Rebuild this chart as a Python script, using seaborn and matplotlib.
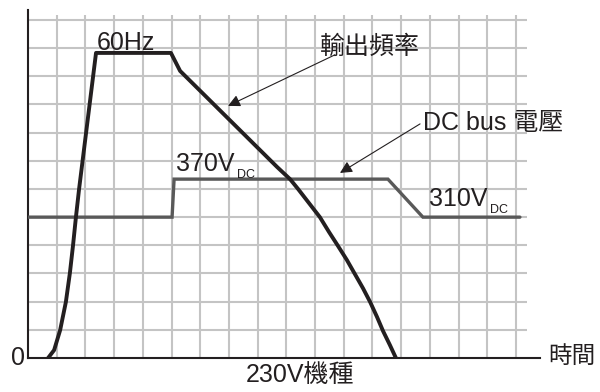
import numpy as np
import pandas as pd
import matplotlib.pyplot as plt
import seaborn as sns

# 輸出頻率 (單位: 格)
freq_t = [0.70, 0.91, 1.12, 1.32, 1.46, 1.57, 1.67, 1.78, 2.37, 4.98, 5.30,
          8.68, 9.13, 9.41, 9.79, 10.17, 10.49, 10.80, 11.11, 11.39, 11.67,
          11.92, 12.16, 12.37, 12.61, 12.82]
freq_v = [0.0, 0.28, 0.99, 1.99, 3.02, 4.01, 5.0, 6.0, 10.83, 10.83, 10.19,
          6.78, 6.35, 6.0, 5.50, 5.0, 4.47, 3.98, 3.48, 2.98, 2.48,
          1.99, 1.46, 0.96, 0.46, 0.0]

# DC bus 電壓 (單位: 格)
dc_t = [0.0, 5.02, 5.09, 12.54, 13.76, 17.14]
dc_v = [5.0, 5.0, 6.35, 6.35, 5.0, 5.0]

n_vgrid = 17
n_hgrid = 12

sns.set_theme(style='white')
plt.rcParams['font.family'] = ['Liberation Sans', 'Noto Sans CJK TC', 'DejaVu Sans']

ink = '#231f20'
grid_c = '#c4c4c4'

fig = plt.figure(figsize=(6, 3.92), dpi=100)
ax = fig.add_axes([28 / 600, 34 / 392, 512 / 600, 348 / 392])
ax.set_xlim(0, 512 / 28.7)
ax.set_ylim(0, 348 / 28.17)

# 格線
ax.hlines(np.arange(1, n_hgrid + 1), 0, 499 / 28.7, color=grid_c, lw=1.5, zorder=1)
ax.vlines(np.arange(1, n_vgrid + 1), 0, 343 / 28.17, color=grid_c, lw=1.5, zorder=1)

df_f = pd.DataFrame({'t': freq_t, 'v': freq_v})
df_d = pd.DataFrame({'t': dc_t, 'v': dc_v})
sns.lineplot(data=df_d, x='t', y='v', sort=False, estimator=None, ax=ax,
             color='#595959', lw=2.4, zorder=3, solid_joinstyle='miter')
sns.lineplot(data=df_f, x='t', y='v', sort=False, estimator=None, ax=ax,
             color=ink, lw=2.8, zorder=4, solid_joinstyle='round')

# 軸
for s in ['top', 'right']:
    ax.spines[s].set_visible(False)
for s in ['left', 'bottom']:
    ax.spines[s].set_color(ink)
    ax.spines[s].set_linewidth(1.5)
ax.set_xticks([])
ax.set_yticks([])
ax.set_xlabel('')
ax.set_ylabel('')

fs = 18
ax.text(2.40, 10.93, '60Hz', fontsize=fs, color=ink, ha='left', va='baseline')

# 電壓標籤 + 下標 DC
for x0, y0, lab in [(5.16, 6.64, '370V'), (13.97, 5.38, '310V')]:
    t = ax.text(x0, y0, lab, fontsize=fs, color=ink, ha='left', va='baseline')
    ax.annotate('DC', xy=(1, 0), xycoords=t, xytext=(1.5, -3.5),
                textcoords='offset points', fontsize=9, color=ink,
                ha='left', va='bottom')

arrow = dict(arrowstyle='-|>', color=ink, lw=0.8, mutation_scale=18, shrinkA=0, shrinkB=0)
ax.annotate('', xy=(6.97, 8.95), xytext=(10.69, 10.76), arrowprops=arrow)
ax.text(10.17, 11.04, '輸出頻率', fontsize=fs, color=ink, ha='left', va='center')
ax.annotate('', xy=(10.87, 6.57), xytext=(13.66, 8.31), arrowprops=arrow)
ax.text(13.76, 8.34, 'DC bus 電壓', fontsize=fs, color=ink, ha='left', va='center')

ax.text(-0.1, 0.0, '0', fontsize=fs, color=ink, ha='right', va='center', clip_on=False)
ax.text(18.12, 0.04, '時間', fontsize=17, color=ink, ha='left', va='center', clip_on=False)
ax.text(9.48, -0.64, '230V機種', fontsize=fs, color=ink, ha='center', va='center', clip_on=False)

fig.savefig('out.png', dpi=100)
